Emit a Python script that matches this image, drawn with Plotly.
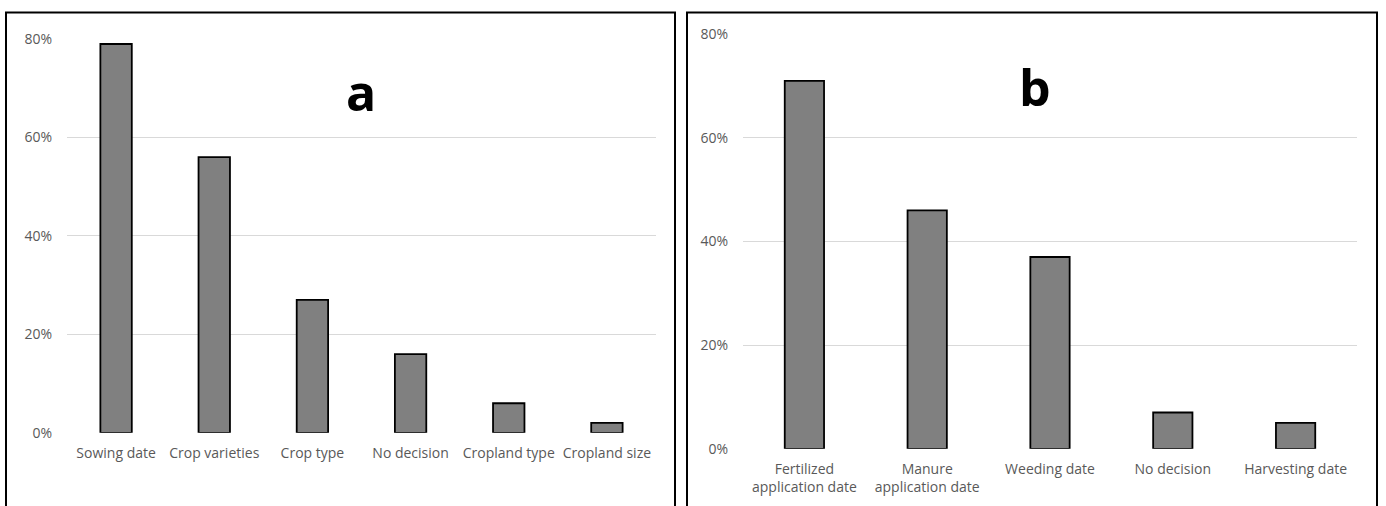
import plotly.graph_objects as go

# Panel a data
cats_a = ["Sowing date", "Crop varieties", "Crop type", "No decision", "Cropland type", "Cropland size"]
vals_a = [0.79, 0.56, 0.27, 0.16, 0.06, 0.02]

# Panel b data
cats_b = ["Fertilized<br>application date", "Manure<br>application date", "Weeding date", "No decision", "Harvesting date"]
vals_b = [0.71, 0.46, 0.37, 0.07, 0.05]

ytick_vals = [0, 0.2, 0.4, 0.6, 0.8]
ytick_text = ["0%", "20%", "40%", "60%", "80%"]

W, H = 1386, 506
FONT = "Open Sans"
LABEL_COLOR = "#595959"

fig = go.Figure()
fig.add_trace(go.Bar(x=cats_a, y=vals_a, xaxis="x", yaxis="y",
                     marker=dict(color="#808080", line=dict(color="black", width=1.8)),
                     showlegend=False, hoverinfo="skip"))
fig.add_trace(go.Bar(x=cats_b, y=vals_b, xaxis="x2", yaxis="y2",
                     marker=dict(color="#808080", line=dict(color="black", width=1.8)),
                     showlegend=False, hoverinfo="skip"))

def px(x):
    return x / W

def py(y):
    # compensate the vertical squeeze seen in the rendered picture
    ys = (y - 8.4) / 0.962
    return 1 - ys / H

common_x = dict(showgrid=False, zeroline=False, showline=False, ticks="",
                tickfont=dict(family=FONT, size=14, color=LABEL_COLOR),
                ticklabelstandoff=10, fixedrange=True)
common_y = dict(showgrid=True, gridcolor="#d9d9d9", gridwidth=1, zeroline=False,
                showline=False, ticks="", tickvals=ytick_vals, ticktext=ytick_text,
                range=[0, 0.801], tickfont=dict(family=FONT, size=14, color=LABEL_COLOR),
                ticklabelstandoff=14, fixedrange=True)

fig.update_layout(
    width=W, height=H, autosize=False,
    margin=dict(l=0, r=0, t=0, b=0),
    paper_bgcolor="white", plot_bgcolor="white",
    bargap=0.68,
    xaxis=dict(domain=[px(67), px(656)], anchor="y", **common_x),
    yaxis=dict(domain=[py(431), py(37)], anchor="x", **common_y),
    xaxis2=dict(domain=[px(743), px(1357)], anchor="y2", **common_x),
    yaxis2=dict(domain=[py(447), py(32)], anchor="x2", **common_y),
    shapes=[
        dict(type="rect", xref="paper", yref="paper",
             x0=px(6), x1=px(675), y0=py(540), y1=py(11),
             line=dict(color="black", width=2), fillcolor="rgba(0,0,0,0)", layer="above"),
        dict(type="rect", xref="paper", yref="paper",
             x0=px(687), x1=px(1377), y0=py(540), y1=py(11),
             line=dict(color="black", width=2), fillcolor="rgba(0,0,0,0)", layer="above"),
    ],
    annotations=[
        dict(text="<b>a</b>", xref="paper", yref="paper", x=px(361), y=py(90),
             showarrow=False, font=dict(family="Open Sans", size=50, color="black"),
             xanchor="center", yanchor="middle"),
        dict(text="<b>b</b>", xref="paper", yref="paper", x=px(1035), y=py(85),
             showarrow=False, font=dict(family="Open Sans", size=50, color="black"),
             xanchor="center", yanchor="middle"),
    ],
)

post = ("document.documentElement.style.margin='0';document.body.style.margin='0';"
        "document.body.style.padding='0';document.body.style.overflow='hidden';"
        "document.documentElement.style.overflow='hidden';"
        "var gd=document.getElementsByClassName('plotly-graph-div')[0];"
        "gd.style.position='fixed';gd.style.left='0px';gd.style.top='0px';")
fig.write_html("out.html", config={"responsive": False, "displayModeBar": False}, post_script=post)
